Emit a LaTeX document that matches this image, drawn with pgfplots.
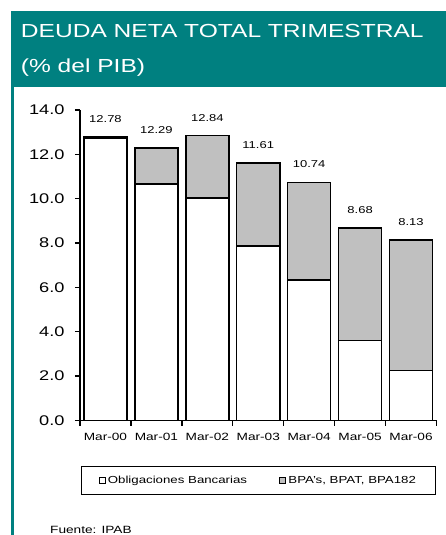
\documentclass[border=0pt]{standalone}
\usepackage{pgfplots}
\pgfplotsset{compat=1.18}
\usepackage{fontspec}
\setmainfont{Liberation Sans}[FakeStretch=1.3]
\definecolor{titleteal}{RGB}{0,128,128}
\definecolor{bpagray}{RGB}{192,192,192}

\pgfplotsset{
  sq legend/.style={legend image code/.code={%
    \draw[##1,draw=black,line width=1.3pt] (0pt,-3pt) rectangle (6pt,3pt);}},
  frame/.style={at={(80pt,114.5pt)}, anchor=south west,
    scale only axis, width=356.5pt, height=310.5pt,
    xmin=-0.5, xmax=6.5, ymin=0, ymax=14},
}

\begin{document}
\begin{tikzpicture}[x=1pt,y=1pt]
\useasboundingbox (0,0) rectangle (446,535);
\clip (0,0) rectangle (446,535);
\fill[white] (0,0) rectangle (446,535);
% title band and left rule
\fill[titleteal] (11,448) rectangle (446,524);
\fill[titleteal] (11,0) rectangle (14,448);
\node[anchor=base west,inner sep=0,text=white,font=\fontsize{18.9}{20}\selectfont]
  at (20.7,497.7) {DEUDA NETA TOTAL TRIMESTRAL};
\node[anchor=base west,inner sep=0,text=white,font=\fontsize{18.9}{20}\selectfont]
  at (20.7,462) {(\% del PIB)};
\node[anchor=base west,inner sep=0,font=\fontsize{10.5}{12}\selectfont]
  at (50,1.5) {Fuente: IPAB};

\begin{axis}[
  frame,
  ybar stacked, bar width=43pt,
  axis lines*=left,
  axis line style={line width=1.5pt,-},
  tick align=outside,
  major tick length=5pt, minor tick length=5pt,
  every tick/.style={black,line width=1.3pt},
  xtick={0,...,6},
  xticklabels={Mar-00,Mar-01,Mar-02,Mar-03,Mar-04,Mar-05,Mar-06},
  major x tick style={draw=none},
  minor xtick={-0.5,0.5,...,6.5},
  ytick={0,2,...,14},
  /pgf/number format/fixed,
  /pgf/number format/fixed zerofill,
  /pgf/number format/precision=1,
  /pgf/number format/assume math mode=true,
  xticklabel style={font=\fontsize{10.5}{12}\selectfont,yshift=-4pt},
  yticklabel style={font=\fontsize{14}{15}\selectfont,xshift=-7pt},
  legend columns=2,
  legend style={at={(0.5,-0.1932)},anchor=center,draw=black,line width=0.8pt,
    font=\fontsize{10.2}{12}\selectfont,inner xsep=17pt,inner ysep=7.5pt,
    /tikz/every even column/.append style={column sep=30pt}},
]
\addplot[fill=white,draw=black,line width=1.5pt,sq legend] coordinates
  {(0,12.72) (1,10.66) (2,10.04) (3,7.86) (4,6.33) (5,3.60) (6,2.25)};
\addlegendentry{Obligaciones Bancarias}
\addplot[fill=bpagray,draw=black,line width=1.5pt,sq legend] coordinates
  {(0,0.06) (1,1.63) (2,2.80) (3,3.75) (4,4.41) (5,5.08) (6,5.88)};
\addlegendentry{BPA's, BPAT, BPA182}
\end{axis}

% totals above each stack
\begin{axis}[frame, hide axis,
  every node near coord/.append style={font=\fontsize{10}{11}\selectfont,text=black,yshift=11pt}]
\addplot[only marks,mark=*,mark size=0pt,
  nodes near coords,point meta=explicit symbolic] coordinates
  {(0,12.78) [12.78] (1,12.29) [12.29] (2,12.84) [12.84] (3,11.61) [11.61]
   (4,10.74) [10.74] (5,8.68) [8.68] (6,8.13) [8.13]};
\end{axis}
\end{tikzpicture}
\end{document}
